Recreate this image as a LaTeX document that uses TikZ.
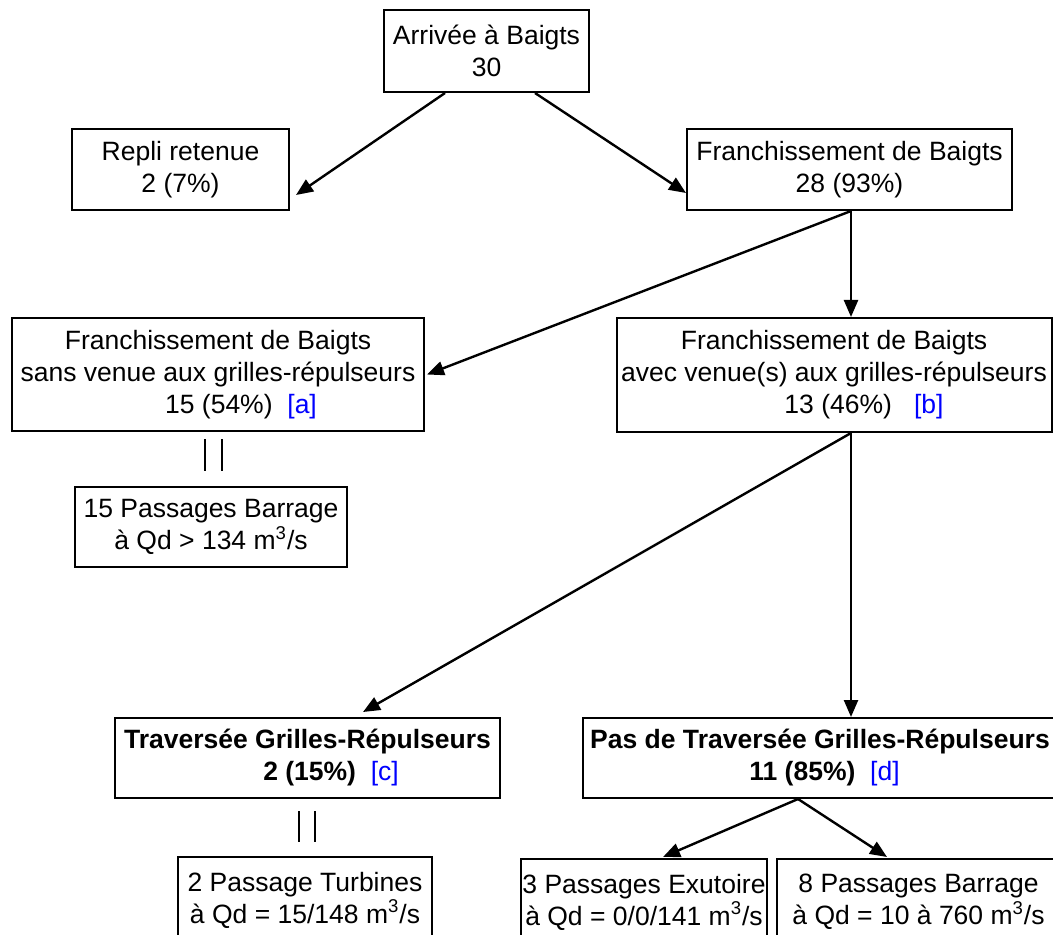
\documentclass[tikz,border=0pt]{standalone}
\usepackage{fontspec}
\setmainfont{Liberation Sans}
\usetikzlibrary{arrows.meta}
\begin{document}
\begin{tikzpicture}[x=0.5pt, y=-0.5pt,
        boite/.style={draw, line width=1pt, align=center, inner sep=0pt,
            font=\fontsize{13.25pt}{16pt}\selectfont},
        boitegras/.style={boite, font=\fontsize{13.25pt}{16pt}\selectfont\bfseries},
        fleche/.style={line width=1.2pt, -{Triangle[length=8.5pt, width=7pt]}},
        trait/.style={line width=0.8pt}]
    \clip (0,0) rectangle (1053,935);

    \node[boite, minimum width=102.5pt, minimum height=41pt] (arrivee) at (486.5,51) {Arrivée à Baigts\\30};
    \node[boite, minimum width=108.5pt, minimum height=40.5pt] (repli) at (180.5,170) {Repli retenue\\2 (7\%)};
    \node[boite, minimum width=162.5pt, minimum height=40.5pt] (franch) at (849.5,169.5) {Franchissement de Baigts\\28 (93\%)};

    \node[boite, minimum width=206pt, minimum height=56.5pt] (sans) at (218,374.5)
        {Franchissement de Baigts\\sans venue aux grilles-répulseurs\\
        \hspace*{23pt}15 (54\%)\ \ \textcolor{blue}{[a]}};
    \node[boite, minimum width=217.5pt, minimum height=57pt] (avec) at (834,375)
        {Franchissement de Baigts\\avec venue(s) aux grilles-répulseurs\\
        \hspace*{30pt}13 (46\%)\ \ \ \textcolor{blue}{[b]}};

    \node[boite, minimum width=136pt, minimum height=40pt] (pas15) at (211,527) {15 Passages Barrage\\à Qd > 134 m\textsuperscript{3}/s};

    \node[boitegras, minimum width=192.5pt, minimum height=40pt] (travers) at (307.5,758)
        {Traversée Grilles-Répulseurs\\
        \hspace*{23.5pt}2 (15\%)\ \ \textcolor{blue}{\mdseries[c]}};
    \node[boitegras, minimum width=237pt, minimum height=40pt] (pasde) at (820,758)
        {Pas de Traversée Grilles-Répulseurs\\
        \hspace*{4.5pt}11 (85\%)\ \ \textcolor{blue}{\mdseries[d]}};

    \node[boite, minimum width=127pt, minimum height=43pt] (turbines) at (305,900) {2 Passage Turbines\\à Qd = 15/148 m\textsuperscript{3}/s};
    \node[boite, minimum width=123pt, minimum height=43pt] (exutoire) at (644,902) {3 Passages Exutoire\\à Qd = 0/0/141 m\textsuperscript{3}/s};
    \node[boite, minimum width=141.5pt, minimum height=43pt] (barrage8) at (918.5,902) {8 Passages Barrage\\à Qd = 10 à 760 m\textsuperscript{3}/s};

    % fleches
    \draw[fleche] ([shift={(-41.5,0)}]arrivee.south) -- ([shift={(6,25)}]repli.east);
    \draw[fleche] ([shift={(48.5,0)}]arrivee.south) -- ([shift={(0,23.5)}]franch.west);
    \draw[fleche] ([shift={(1.5,0)}]franch.south) -- ([shift={(2,0)}]sans.east);
    \draw[fleche] ([shift={(1.5,0)}]franch.south) -- ([shift={(17,0)}]avec.north);
    \draw[fleche] ([shift={(17,0)}]avec.south) -- ([shift={(55.5,-5)}]travers.north);
    \draw[fleche] ([shift={(17,0)}]avec.south) -- ([shift={(31,0)}]pasde.north);
    \draw[fleche] ([shift={(-22,0)}]pasde.south) -- ([shift={(19,-1)}]exutoire.north);
    \draw[fleche] ([shift={(-22,0)}]pasde.south) -- ([shift={(-31.5,-1)}]barrage8.north);

    % doubles traits
    \draw[trait] ([shift={(-6,-47)}]pas15.north) -- ([shift={(-6,-15)}]pas15.north);
    \draw[trait] ([shift={(11,-47)}]pas15.north) -- ([shift={(11,-15)}]pas15.north);
    \draw[trait] ([shift={(-6,-45)}]turbines.north) -- ([shift={(-6,-14)}]turbines.north);
    \draw[trait] ([shift={(10,-45)}]turbines.north) -- ([shift={(10,-14)}]turbines.north);
\end{tikzpicture}
\end{document}
